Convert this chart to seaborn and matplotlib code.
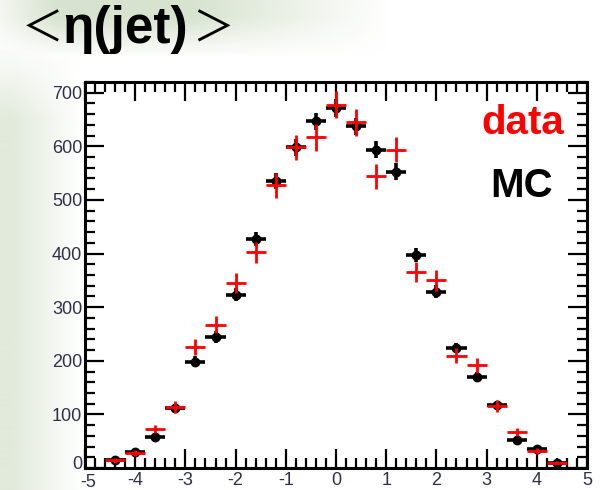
import numpy as np
import pandas as pd
import matplotlib
matplotlib.use("Agg")
import matplotlib.pyplot as plt
import matplotlib.transforms as mtransforms
from matplotlib.ticker import MultipleLocator
import seaborn as sns

# ---- data ----
eta = [-4.4, -4.0, -3.6, -3.2, -2.8, -2.4, -2.0, -1.6, -1.2, -0.8, -0.4, 0.0,
       0.4, 0.8, 1.2, 1.6, 2.0, 2.4, 2.8, 3.2, 3.6, 4.0, 4.4]
mc_vals = [14, 30, 58, 112, 198, 245, 323, 428, 536, 598, 647, 672,
           637, 594, 553, 398, 329, 224, 170, 118, 52, 35, 10]
mc_err = [3, 4, 6, 8, 10, 11, 12, 13, 15, 16, 16, 17,
          16, 16, 15, 13, 12, 10, 9, 7, 5, 4, 2]
data_vals = [14, 28, 73, 114, 226, 267, 345, 402, 527, 598, 617, 678,
             645, 544, 594, 366, 350, 209, 192, 116, 67, 32, 10]
data_err = [4, 5, 8, 11, 15, 16, 19, 20, 23, 24, 25, 26,
            25, 23, 24, 19, 19, 14, 14, 11, 8, 6, 3]
bin_half = 0.2
x_ticks = [-5, -4, -3, -2, -1, 0, 1, 2, 3, 4, 5]
y_ticks = [0, 100, 200, 300, 400, 500, 600, 700]

df_mc = pd.DataFrame({"eta": eta, "n": mc_vals, "err": mc_err})
df_data = pd.DataFrame({"eta": eta, "n": data_vals, "err": data_err})

sns.set_style("ticks")
plt.rcParams['font.family'] = ['Liberation Sans', 'DejaVu Sans', 'Noto Sans CJK JP']

fig = plt.figure(figsize=(6.03, 4.90), dpi=100)

# soft greenish slide background (decorative)
bg = fig.add_axes([0, 0, 1, 1], zorder=-10)
H, W = 490, 603
yy, xx = np.mgrid[0:H, 0:W]
top = np.clip((390 - xx) / 200, 0, 1) * np.clip((58 - yy) / 40, 0, 1) * np.clip(xx / 80 + 0.3, 0, 1)
left = np.clip((82 - xx) / 70, 0, 1) * np.clip((yy - 40) / 80, 0, 1) * 0.75
alpha = np.maximum(top, left) * 0.55
img = np.zeros((H, W, 4))
img[..., 0] = 0.72
img[..., 1] = 0.80
img[..., 2] = 0.66
img[..., 3] = alpha
bg.imshow(img, aspect='auto', extent=[0, W, H, 0])
bg.set_xlim(0, W); bg.set_ylim(H, 0)
bg.axis('off')

ax = fig.add_axes([85/603, 22/490, 502/603, 386/490])
ax.set_facecolor('white')

# MC: black points with error bars
ax.errorbar(df_mc["eta"], df_mc["n"], xerr=bin_half, yerr=df_mc["err"],
            fmt='none', ecolor='black', elinewidth=2.6, capsize=0, zorder=3)
sns.scatterplot(data=df_mc, x="eta", y="n", ax=ax, color='black', s=50,
                marker='o', edgecolor='black', linewidth=0, zorder=4, legend=False)
# data: red crosses
ax.errorbar(df_data["eta"], df_data["n"], xerr=bin_half, yerr=df_data["err"],
            fmt='none', ecolor='#ff0000', elinewidth=2.0, capsize=0, zorder=5)

ax.set_xlim(-5, 5)
ax.set_ylim(0, 720)
ax.set_xticks(x_ticks)
ax.set_yticks(y_ticks)
ax.set_xticklabels([str(t) for t in x_ticks])
ax.set_yticklabels([str(t) for t in y_ticks])
ax.xaxis.set_minor_locator(MultipleLocator(0.2))
ax.yaxis.set_minor_locator(MultipleLocator(20))
ax.tick_params(which='both', direction='in', top=True, right=True,
               color='black', width=1.6)
ax.tick_params(which='major', length=14, labelsize=13, labelcolor='#30304a')
ax.tick_params(which='minor', length=7)
ax.tick_params(axis='y', which='major', pad=2)
ax.tick_params(axis='x', which='major', pad=3)
for s in ax.spines.values():
    s.set_linewidth(2.2)
    s.set_color('black')
ax.set_xlabel('')
ax.set_ylabel('')

# nudge the corner labels apart slightly
ylab0 = ax.get_yticklabels()[0]
ylab0.set_transform(ylab0.get_transform() +
                    mtransforms.ScaledTranslation(0, 4/72, fig.dpi_scale_trans))
xlab0 = ax.get_xticklabels()[0]
xlab0.set_transform(xlab0.get_transform() +
                    mtransforms.ScaledTranslation(2/72, -1/72, fig.dpi_scale_trans))

# labels
ax.text(0.955, 0.895, 'data', transform=ax.transAxes, ha='right', va='center',
        color='#ff0000', fontsize=29, fontweight='bold')
ax.text(0.933, 0.73, 'MC', transform=ax.transAxes, ha='right', va='center',
        color='black', fontsize=29, fontweight='bold')

# title
fig.text(22/603, 1 - 30/490, '＜', ha='left', va='center', fontsize=30,
         family=['Noto Sans CJK JP', 'DejaVu Sans'], color='black')
fig.text(62/603, 1 - 29/490, 'η(jet)', ha='left', va='center', fontsize=37,
         fontweight='bold', color='black')
fig.text(192/603, 1 - 30/490, '＞', ha='left', va='center', fontsize=30,
         family=['Noto Sans CJK JP', 'DejaVu Sans'], color='black')

fig.savefig('out.png', dpi=100)
